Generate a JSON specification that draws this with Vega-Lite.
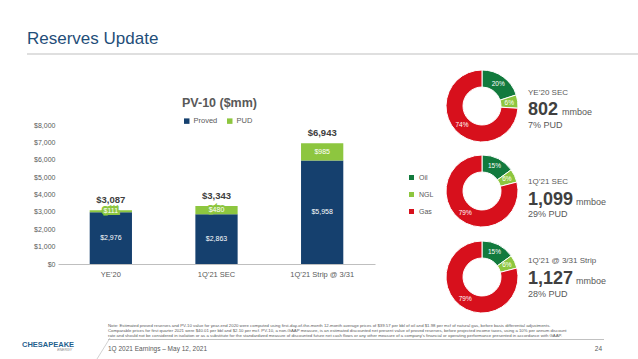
{
  "$schema": "https://vega.github.io/schema/vega-lite/v6.json",
  "width": 317,
  "height": 139,
  "autosize": {"type": "none"},
  "padding": {"left": 58, "top": 125, "right": 263, "bottom": 95},
  "background": "white",
  "config": {
    "font": "Liberation Sans",
    "view": {"stroke": null},
    "axisY": {"format": "$,.0f", "labelOverlap": false, "labelFontSize": 7, "labelColor": "#595959", "domain": false, "ticks": false, "tickSize": 0, "labelPadding": 3, "grid": false, "title": null},
    "axisX": {"labelFontSize": 7.5, "labelColor": "#595959", "domain": true, "domainColor": "#bfbfbf", "domainWidth": 1, "ticks": false, "tickSize": 0, "labelPadding": 6, "labelAngle": 0, "grid": false, "title": null}
  },
  "datasets": {
    "pv10": [
      {"period": "YE’20", "type": "Proved", "value": 2976},
      {"period": "YE’20", "type": "PUD", "value": 111},
      {"period": "1Q’21 SEC", "type": "Proved", "value": 2863},
      {"period": "1Q’21 SEC", "type": "PUD", "value": 480},
      {"period": "1Q’21 Strip @ 3/31", "type": "Proved", "value": 5958},
      {"period": "1Q’21 Strip @ 3/31", "type": "PUD", "value": 985}
    ],
    "mix": [
      {"case": "YE’20 SEC", "fuel": "Oil", "share": 0.20},
      {"case": "YE’20 SEC", "fuel": "NGL", "share": 0.06},
      {"case": "YE’20 SEC", "fuel": "Gas", "share": 0.74},
      {"case": "1Q’21 SEC", "fuel": "Oil", "share": 0.15},
      {"case": "1Q’21 SEC", "fuel": "NGL", "share": 0.06},
      {"case": "1Q’21 SEC", "fuel": "Gas", "share": 0.79},
      {"case": "1Q’21 @ 3/31 Strip", "fuel": "Oil", "share": 0.15},
      {"case": "1Q’21 @ 3/31 Strip", "fuel": "NGL", "share": 0.06},
      {"case": "1Q’21 @ 3/31 Strip", "fuel": "Gas", "share": 0.79}
    ],
    "reserves": [
      {"case": "YE’20 SEC", "mmboe": 802, "pud": "7% PUD"},
      {"case": "1Q’21 SEC", "mmboe": 1099, "pud": "29% PUD"},
      {"case": "1Q’21 @ 3/31 Strip", "mmboe": 1127, "pud": "28% PUD"}
    ]
  },
  "resolve": {"scale": {"color": "independent"}},
  "layer": [
    {
      "data": {"name": "pv10"},
      "mark": {"type": "bar"},
      "encoding": {
        "x": {"field": "period", "type": "nominal", "title": null,
          "scale": {"domain": ["YE’20", "1Q’21 SEC", "1Q’21 Strip @ 3/31"], "paddingInner": 0.6, "paddingOuter": 0.3}},
        "y": {"field": "value", "type": "quantitative", "stack": "zero", "title": null,
          "scale": {"domain": [0, 8000], "nice": false},
          "axis": {"values": [0, 1000, 2000, 3000, 4000, 5000, 6000, 7000, 8000], "labelOverlap": false}},
        "color": {"field": "type", "type": "nominal",
          "scale": {"domain": ["Proved", "PUD"], "range": ["#15406e", "#8dc63f"]},
          "legend": {"orient": "none", "legendX": 125, "legendY": -8, "direction": "horizontal", "title": null, "symbolType": "square", "symbolSize": 30, "symbolStrokeWidth": 0, "labelFontSize": 7.5, "labelColor": "#595959", "columnPadding": 8, "labelOffset": 3}},
        "order": {"field": "type", "sort": "descending"}
      }
    },
    {
      "data": {"name": "pv10"},
      "transform": [
        {"stack": "value", "groupby": ["period"], "sort": [{"field": "type", "order": "descending"}], "as": ["v0", "v1"]},
        {"fold": ["v0", "v1"], "as": ["edge", "pos"]},
        {"filter": {"field": "type", "equal": "Proved"}}
      ],
      "mark": {"type": "text", "fontSize": 7, "color": "white", "baseline": "middle"},
      "encoding": {
        "x": {"field": "period", "type": "nominal", "title": null},
        "y": {"field": "pos", "type": "quantitative", "aggregate": "mean", "title": null, "axis": {"values": [0, 1000, 2000, 3000, 4000, 5000, 6000, 7000, 8000], "labelOverlap": false}},
        "text": {"field": "value", "type": "quantitative", "format": "$,.0f"},
        "detail": {"field": "type"}
      }
    },
    {
      "data": {"name": "pv10"},
      "transform": [
        {"stack": "value", "groupby": ["period"], "sort": [{"field": "type", "order": "descending"}], "as": ["v0", "v1"]},
        {"fold": ["v0", "v1"], "as": ["edge", "pos"]},
        {"filter": {"field": "type", "equal": "PUD"}}
      ],
      "mark": {"type": "text", "fontSize": 7, "color": "#8dc63f", "stroke": "#8dc63f", "strokeWidth": 4, "baseline": "middle"},
      "encoding": {
        "x": {"field": "period", "type": "nominal", "title": null},
        "y": {"field": "pos", "type": "quantitative", "aggregate": "mean", "title": null, "axis": {"values": [0, 1000, 2000, 3000, 4000, 5000, 6000, 7000, 8000], "labelOverlap": false}},
        "text": {"field": "value", "type": "quantitative", "format": "$,.0f"},
        "detail": {"field": "type"}
      }
    },
    {
      "data": {"name": "pv10"},
      "transform": [
        {"stack": "value", "groupby": ["period"], "sort": [{"field": "type", "order": "descending"}], "as": ["v0", "v1"]},
        {"fold": ["v0", "v1"], "as": ["edge", "pos"]},
        {"filter": {"field": "type", "equal": "PUD"}}
      ],
      "mark": {"type": "text", "fontSize": 7, "color": "white", "baseline": "middle"},
      "encoding": {
        "x": {"field": "period", "type": "nominal", "title": null},
        "y": {"field": "pos", "type": "quantitative", "aggregate": "mean", "title": null, "axis": {"values": [0, 1000, 2000, 3000, 4000, 5000, 6000, 7000, 8000], "labelOverlap": false}},
        "text": {"field": "value", "type": "quantitative", "format": "$,.0f"},
        "detail": {"field": "type"}
      }
    },
    {
      "data": {"name": "pv10"},
      "mark": {"type": "text", "fontSize": 9.5, "fontWeight": "bold", "color": "#404040", "dy": -10, "baseline": "middle"},
      "encoding": {
        "x": {"field": "period", "type": "nominal", "title": null},
        "y": {"field": "value", "type": "quantitative", "aggregate": "sum", "title": null, "axis": {"values": [0, 1000, 2000, 3000, 4000, 5000, 6000, 7000, 8000], "labelOverlap": false}},
        "text": {"field": "value", "type": "quantitative", "aggregate": "sum", "format": "$,.0f"}
      }
    },
    {
      "data": {"values": [{}]},
      "mark": {"type": "text", "text": "PV-10 ($mm)", "x": 161.5, "y": -18, "align": "center", "baseline": "alphabetic", "fontSize": 12.5, "fontWeight": "bold", "color": "#595959"},
      "encoding": {}
    },
    {
      "data": {"values": [{}]},
      "mark": {"type": "text", "text": "Reserves Update", "x": -31, "y": -81.5, "align": "left", "baseline": "alphabetic", "font": "Liberation Sans", "fontSize": 17, "color": "#1f4e79"},
      "encoding": {}
    },
    {
      "data": {"values": [{}]},
      "mark": {"type": "rule", "color": "#bfbfbf", "strokeWidth": 1},
      "encoding": {"x": {"value": -31}, "x2": {"value": 580}, "y": {"value": -71}}
    },
    {
      "layer": [
        {
          "data": {"name": "mix"},
          "transform": [{"filter": {"field": "case", "equal": "YE’20 SEC"}}],
          "mark": {"type": "arc", "outerRadius": 36, "innerRadius": 19, "stroke": "white", "strokeWidth": 1},
          "encoding": {
            "x": {"value": 424}, "y": {"value": -19},
            "theta": {"field": "share", "type": "quantitative", "stack": true},
            "color": {"field": "fuel", "type": "nominal",
              "scale": {"domain": ["Oil", "NGL", "Gas"], "range": ["#127a3d", "#8dc63f", "#d7101c"]},
              "legend": {"orient": "none", "legendX": 350, "legendY": 49, "direction": "vertical", "title": null, "symbolType": "square", "symbolSize": 25, "symbolStrokeWidth": 0, "labelFontSize": 7, "labelColor": "#595959", "rowPadding": 9, "labelOffset": 4}},
            "order": {"field": "fuel", "sort": "descending"}
          }
        },
        {
          "data": {"name": "mix"},
          "transform": [{"filter": {"field": "case", "equal": "YE’20 SEC"}}],
          "mark": {"type": "text", "radius": 27.5, "fontSize": 6.5, "color": "white"},
          "encoding": {
            "x": {"value": 424}, "y": {"value": -19},
            "theta": {"field": "share", "type": "quantitative", "stack": true},
            "detail": {"field": "fuel"},
            "order": {"field": "fuel", "sort": "descending"},
            "text": {"field": "share", "type": "quantitative", "format": ".0%"}
          }
        },
        {
          "data": {"name": "reserves"},
          "transform": [{"filter": {"field": "case", "equal": "YE’20 SEC"}}],
          "mark": {"type": "text", "align": "left", "baseline": "alphabetic", "fontSize": 8, "color": "#595959", "x": 470, "y": -30},
          "encoding": {"text": {"field": "case"}}
        },
        {
          "data": {"name": "reserves"},
          "transform": [{"filter": {"field": "case", "equal": "YE’20 SEC"}}],
          "mark": {"type": "text", "align": "left", "baseline": "alphabetic", "fontSize": 18, "fontWeight": "bold", "color": "#404040", "x": 470, "y": -10},
          "encoding": {"text": {"field": "mmboe", "type": "quantitative", "format": ","}}
        },
        {
          "data": {"name": "reserves"},
          "transform": [{"filter": {"field": "case", "equal": "YE’20 SEC"}}],
          "mark": {"type": "text", "text": "mmboe", "align": "left", "baseline": "alphabetic", "fontSize": 9, "color": "#595959", "x": 504, "y": -10},
          "encoding": {}
        },
        {
          "data": {"name": "reserves"},
          "transform": [{"filter": {"field": "case", "equal": "YE’20 SEC"}}],
          "mark": {"type": "text", "align": "left", "baseline": "alphabetic", "fontSize": 9, "color": "#595959", "x": 470, "y": 2.7},
          "encoding": {"text": {"field": "pud"}}
        }
      ]
    },
    {
      "layer": [
        {
          "data": {"name": "mix"},
          "transform": [{"filter": {"field": "case", "equal": "1Q’21 SEC"}}],
          "mark": {"type": "arc", "outerRadius": 36, "innerRadius": 19, "stroke": "white", "strokeWidth": 1},
          "encoding": {
            "x": {"value": 424}, "y": {"value": 66},
            "theta": {"field": "share", "type": "quantitative", "stack": true},
            "color": {"field": "fuel", "type": "nominal",
              "scale": {"domain": ["Oil", "NGL", "Gas"], "range": ["#127a3d", "#8dc63f", "#d7101c"]},
              "legend": null},
            "order": {"field": "fuel", "sort": "descending"}
          }
        },
        {
          "data": {"name": "mix"},
          "transform": [{"filter": {"field": "case", "equal": "1Q’21 SEC"}}],
          "mark": {"type": "text", "radius": 27.5, "fontSize": 6.5, "color": "white"},
          "encoding": {
            "x": {"value": 424}, "y": {"value": 66},
            "theta": {"field": "share", "type": "quantitative", "stack": true},
            "detail": {"field": "fuel"},
            "order": {"field": "fuel", "sort": "descending"},
            "text": {"field": "share", "type": "quantitative", "format": ".0%"}
          }
        },
        {
          "data": {"name": "reserves"},
          "transform": [{"filter": {"field": "case", "equal": "1Q’21 SEC"}}],
          "mark": {"type": "text", "align": "left", "baseline": "alphabetic", "fontSize": 8, "color": "#595959", "x": 470, "y": 59},
          "encoding": {"text": {"field": "case"}}
        },
        {
          "data": {"name": "reserves"},
          "transform": [{"filter": {"field": "case", "equal": "1Q’21 SEC"}}],
          "mark": {"type": "text", "align": "left", "baseline": "alphabetic", "fontSize": 18, "fontWeight": "bold", "color": "#404040", "x": 470, "y": 80},
          "encoding": {"text": {"field": "mmboe", "type": "quantitative", "format": ","}}
        },
        {
          "data": {"name": "reserves"},
          "transform": [{"filter": {"field": "case", "equal": "1Q’21 SEC"}}],
          "mark": {"type": "text", "text": "mmboe", "align": "left", "baseline": "alphabetic", "fontSize": 9, "color": "#595959", "x": 518, "y": 80},
          "encoding": {}
        },
        {
          "data": {"name": "reserves"},
          "transform": [{"filter": {"field": "case", "equal": "1Q’21 SEC"}}],
          "mark": {"type": "text", "align": "left", "baseline": "alphabetic", "fontSize": 9, "color": "#595959", "x": 470, "y": 91.7},
          "encoding": {"text": {"field": "pud"}}
        }
      ]
    },
    {
      "layer": [
        {
          "data": {"name": "mix"},
          "transform": [{"filter": {"field": "case", "equal": "1Q’21 @ 3/31 Strip"}}],
          "mark": {"type": "arc", "outerRadius": 36, "innerRadius": 19, "stroke": "white", "strokeWidth": 1},
          "encoding": {
            "x": {"value": 424}, "y": {"value": 152},
            "theta": {"field": "share", "type": "quantitative", "stack": true},
            "color": {"field": "fuel", "type": "nominal",
              "scale": {"domain": ["Oil", "NGL", "Gas"], "range": ["#127a3d", "#8dc63f", "#d7101c"]},
              "legend": null},
            "order": {"field": "fuel", "sort": "descending"}
          }
        },
        {
          "data": {"name": "mix"},
          "transform": [{"filter": {"field": "case", "equal": "1Q’21 @ 3/31 Strip"}}],
          "mark": {"type": "text", "radius": 27.5, "fontSize": 6.5, "color": "white"},
          "encoding": {
            "x": {"value": 424}, "y": {"value": 152},
            "theta": {"field": "share", "type": "quantitative", "stack": true},
            "detail": {"field": "fuel"},
            "order": {"field": "fuel", "sort": "descending"},
            "text": {"field": "share", "type": "quantitative", "format": ".0%"}
          }
        },
        {
          "data": {"name": "reserves"},
          "transform": [{"filter": {"field": "case", "equal": "1Q’21 @ 3/31 Strip"}}],
          "mark": {"type": "text", "align": "left", "baseline": "alphabetic", "fontSize": 8, "color": "#595959", "x": 470, "y": 138},
          "encoding": {"text": {"field": "case"}}
        },
        {
          "data": {"name": "reserves"},
          "transform": [{"filter": {"field": "case", "equal": "1Q’21 @ 3/31 Strip"}}],
          "mark": {"type": "text", "align": "left", "baseline": "alphabetic", "fontSize": 18, "fontWeight": "bold", "color": "#404040", "x": 470, "y": 159},
          "encoding": {"text": {"field": "mmboe", "type": "quantitative", "format": ","}}
        },
        {
          "data": {"name": "reserves"},
          "transform": [{"filter": {"field": "case", "equal": "1Q’21 @ 3/31 Strip"}}],
          "mark": {"type": "text", "text": "mmboe", "align": "left", "baseline": "alphabetic", "fontSize": 9, "color": "#595959", "x": 518, "y": 159},
          "encoding": {}
        },
        {
          "data": {"name": "reserves"},
          "transform": [{"filter": {"field": "case", "equal": "1Q’21 @ 3/31 Strip"}}],
          "mark": {"type": "text", "align": "left", "baseline": "alphabetic", "fontSize": 9, "color": "#595959", "x": 470, "y": 171.7},
          "encoding": {"text": {"field": "pud"}}
        }
      ]
    },
    {
      "data": {"values": [{}]},
      "mark": {"type": "text", "text": "Note: Estimated proved reserves and PV-10 value for year-end 2020 were computed using first-day-of-the-month 12-month average prices of $39.57 per bbl of oil and $1.98 per mcf of natural gas, before basis differential adjustments.", "x": 50, "y": 201, "align": "left", "baseline": "middle", "fontSize": 4.3, "color": "#595959"},
      "encoding": {}
    },
    {
      "data": {"values": [{}]},
      "mark": {"type": "text", "text": "Comparable prices for first quarter 2021 were $40.01 per bbl and $2.10 per mcf. PV-10, a non-GAAP measure, is an estimated discounted net present value of proved reserves, before projected income taxes, using a 10% per annum discount", "x": 50, "y": 206, "align": "left", "baseline": "middle", "fontSize": 4.3, "color": "#595959"},
      "encoding": {}
    },
    {
      "data": {"values": [{}]},
      "mark": {"type": "text", "text": "rate and should not be considered in isolation or as a substitute for the standardized measure of discounted future net cash flows or any other measure of a company's financial or operating performance presented in accordance with GAAP.", "x": 50, "y": 211, "align": "left", "baseline": "middle", "fontSize": 4.3, "color": "#595959"},
      "encoding": {}
    },
    {
      "data": {"values": [{}]},
      "mark": {"type": "rule", "color": "#a6a6a6", "strokeWidth": 0.7},
      "encoding": {"x": {"value": 50}, "x2": {"value": 546}, "y": {"value": 214.5}}
    },
    {
      "data": {"values": [{}]},
      "mark": {"type": "rule", "color": "#bfbfbf", "strokeWidth": 0.7},
      "encoding": {"x": {"value": 39}, "x2": {"value": 52}, "y": {"value": 234}, "y2": {"value": 213}}
    },
    {
      "data": {"values": [{}]},
      "mark": {"type": "text", "text": "1Q 2021 Earnings – May 12, 2021", "x": 50, "y": 223.5, "align": "left", "baseline": "middle", "fontSize": 6.5, "color": "#595959"},
      "encoding": {}
    },
    {
      "data": {"values": [{}]},
      "mark": {"type": "text", "text": "24", "x": 544, "y": 223.5, "align": "right", "baseline": "middle", "fontSize": 6.5, "color": "#595959"},
      "encoding": {}
    },
    {
      "data": {"values": [{}]},
      "mark": {"type": "text", "text": "CHESAPEAKE", "x": -36, "y": 219.5, "align": "left", "baseline": "middle", "fontSize": 7.5, "fontWeight": "bold", "color": "#1f5f8e"},
      "encoding": {}
    },
    {
      "data": {"values": [{}]},
      "mark": {"type": "text", "text": "ENERGY", "x": 14, "y": 225, "align": "right", "baseline": "middle", "fontSize": 3.5, "fontStyle": "italic", "color": "#808080"},
      "encoding": {}
    }
  ]
}
